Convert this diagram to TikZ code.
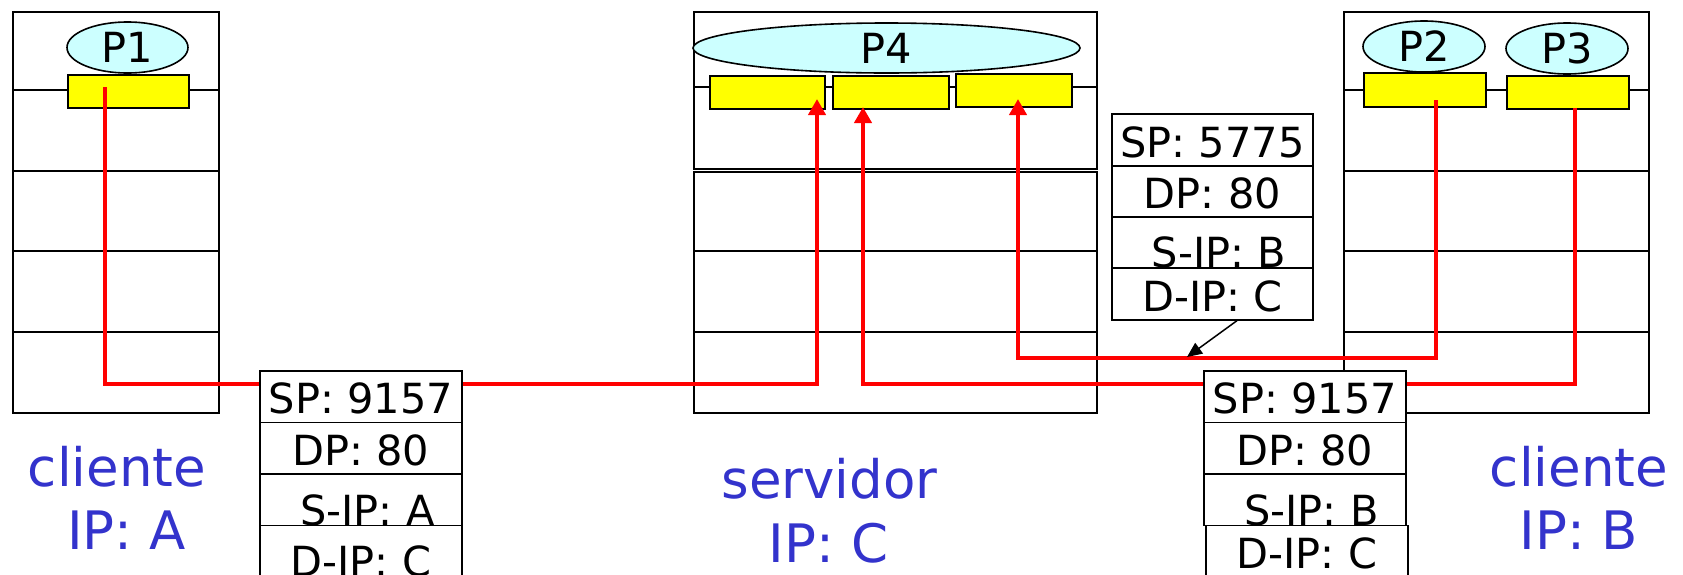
\documentclass[tikz,border=0pt]{standalone}
\usepackage{fontspec}
\setmainfont{DejaVu Sans}
\usetikzlibrary{arrows.meta,shapes.geometric}
\definecolor{cyanfill}{HTML}{CCFFFF}
\definecolor{sockyellow}{HTML}{FFFF00}
\definecolor{labelblue}{HTML}{3333CC}
\definecolor{flowred}{HTML}{FF0000}
\newcommand{\pkfont}{\fontsize{41.5}{48}\selectfont}
\newcommand{\lblfont}{\fontsize{53}{63}\selectfont}
\begin{document}
\begin{tikzpicture}[x=1pt,y=-1pt,
  thinline/.style={draw=black,line width=1.8pt},
  hostbox/.style={thinline,inner sep=0pt,anchor=north west},
  sock/.style={draw=black,line width=1.8pt,fill=sockyellow,inner sep=0pt,anchor=north west},
  proc/.style={ellipse,draw=black,line width=1.6pt,fill=cyanfill,inner sep=0pt,font=\pkfont},
  pkrow/.style={draw=black,line width=1.8pt,fill=white,inner sep=0pt,anchor=north west,
    minimum width=202pt,minimum height=51.5pt,font=\pkfont,text height=34.5pt,text depth=0pt},
  pklow/.style={pkrow,text height=51.5pt},
  flow/.style={draw=flowred,line width=4pt,line join=miter},
  flowarrow/.style={flow,-{Triangle[length=16pt,width=17pt]}},
  lbl/.style={text=labelblue,font=\lblfont,anchor=base,inner sep=0pt}
]
\useasboundingbox (0,0) rectangle (1683,574);

% host boxes
\node[hostbox,minimum width=206pt,minimum height=401pt] (hostA) at (12,11) {};
\node[hostbox,minimum width=403pt,minimum height=157pt] (srvTop) at (693,11) {};
\node[hostbox,minimum width=403pt,minimum height=241pt] (srvBot) at (693,171) {};
\node[hostbox,minimum width=305pt,minimum height=401pt] (hostB) at (1343,11) {};

% layer lines
\foreach \yy in {90,171,251,332} {
  \draw[thinline] (12,\yy) -- (218,\yy);
  \draw[thinline] (1343,\yy) -- (1648,\yy);
}
\foreach \yy in {87,251,332} {
  \draw[thinline] (693,\yy) -- (1096,\yy);
}

% sockets
\node[sock,minimum width=121pt,minimum height=33pt] (sA) at (67,74) {};
\node[sock,minimum width=115pt,minimum height=33pt] (sC1) at (709,75) {};
\node[sock,minimum width=116pt,minimum height=33pt] (sC2) at (832,75) {};
\node[sock,minimum width=116pt,minimum height=33pt] (sC3) at (955,73) {};
\node[sock,minimum width=122pt,minimum height=34pt] (sB2) at (1363,72) {};
\node[sock,minimum width=122pt,minimum height=33pt] (sB3) at (1506,75) {};

% processes
\node[proc,minimum width=121pt,minimum height=51pt] (p1) at (127.5,47.5) {P1};
\node[proc,minimum width=387pt,minimum height=50pt] (p4) at (886.5,48) {P4};
\node[proc,minimum width=122pt,minimum height=51pt] (p2) at (1424,46.5) {P2};
\node[proc,minimum width=122pt,minimum height=51pt] (p3) at (1567,48.5) {P3};

% flows
\coordinate (f1s) at (105,87);
\coordinate (f1e) at (817,99);
\coordinate (f2s) at (1575,108);
\coordinate (f2e) at (863,107);
\coordinate (f3s) at (1436,100);
\coordinate (f3e) at (1018,99);
\draw[flowarrow] (f1s) -- ++(0,297) -| (f1e);
\draw[flowarrow] (f2s) -- ++(0,276) -| (f2e);
\draw[flowarrow] (f3s) -- ++(0,258) -| (f3e);

% packet A
\node[pkrow] (pa1) at (259,370) {SP: 9157};
\node[pkrow] (pa2) at (259,421.5) {DP: 80};
\node[pklow] (pa3) at (259,473) {\hspace*{13pt}S-IP: A};
\node[pklow] (pa4) at (259,524.5) {D-IP: C};

% packet B (to server)
\node[pkrow] (pb1) at (1203,370) {SP: 9157};
\node[pkrow] (pb2) at (1203,421.5) {DP: 80};
\node[pklow] (pb3) at (1203,473) {\hspace*{13pt}S-IP: B};
\node[pkrow] (pb4) at (1205,524.5) {D-IP: C};

% packet 5775
\node[pkrow,minimum width=201pt,minimum height=51.4pt] (pc1) at (1111,113.3) {SP: 5775};
\node[pkrow,minimum width=201pt,minimum height=51.4pt] (pc2) at (1111,164.7) {DP: 80};
\node[pklow,minimum width=201pt,minimum height=51.4pt,text height=50pt] (pc3) at (1111,216) {\hspace*{13pt}S-IP: B};
\node[pkrow,minimum width=201pt,minimum height=51.4pt] (pc4) at (1111,267.5) {D-IP: C};

% pointer arrow
\coordinate (ptr) at (1187,357);
\draw[line width=1.5pt,-{Triangle[length=15pt,width=13pt]}] ([xshift=24.5pt]pc4.south) -- (ptr);

% labels
\node[lbl] (lA1) at (117,486) {cliente};
\node[lbl] (lA2) at (126.5,549) {IP: A};
\node[lbl] (lC1) at (829.5,498) {servidor};
\node[lbl] (lC2) at (828.5,562) {IP: C};
\node[lbl] (lB1) at (1579,486) {cliente};
\node[lbl] (lB2) at (1579,549) {IP: B};
\end{tikzpicture}
\end{document}
